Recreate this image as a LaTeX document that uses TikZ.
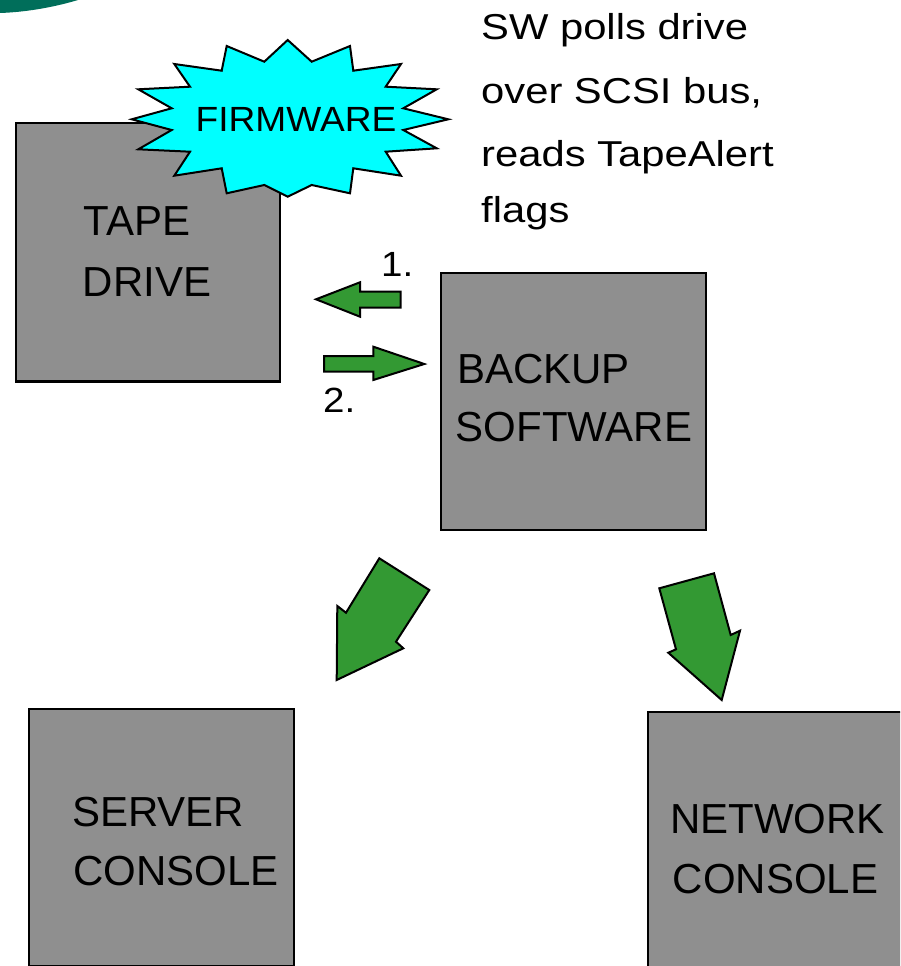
\documentclass[tikz,border=0pt]{standalone}
\usepackage{fontspec}
\setmainfont{Liberation Sans}
\definecolor{boxgray}{RGB}{143,143,143}
\definecolor{arrowgreen}{RGB}{51,153,51}
\definecolor{burstcyan}{RGB}{0,255,255}
\definecolor{cornerteal}{RGB}{0,110,90}
\begin{document}
\begin{tikzpicture}[x=1pt,y=-1pt,
  box/.style={draw=black,line width=2.4pt,fill=boxgray,inner sep=0pt,anchor=north west},
  blockarrow/.style={draw=black,line width=2pt,fill=arrowgreen,line join=miter},
  lbl/.style={anchor=base west,inner sep=0pt,font=\fontsize{42}{50}\selectfont},
  note/.style={anchor=base west,inner sep=0pt,font=\fontsize{36}{44}\selectfont},
  num/.style={anchor=base west,inner sep=0pt,font=\fontsize{35}{42}\selectfont}]
\clip (0,0) rectangle (900,966);

% corner decoration
\fill[cornerteal] (0,0) -- (0,13) .. controls (30,12) and (58,6) .. (78,0) -- cycle;

% boxes
\node[box,minimum width=264.3pt,minimum height=258.4pt] (tape) at (14.7,122) {};
\node[box,minimum width=265pt,minimum height=257pt] (backup) at (440,272) {};
\node[box,minimum width=265pt,minimum height=257pt] (server) at (28,708) {};
\node[box,minimum width=265pt,minimum height=257pt] (network) at (647,711) {};

% firmware starburst
\draw[line width=2pt,fill=burstcyan,line join=miter]
  (287.7,40) -- (311.7,61.7) -- (350,46) -- (353.3,70.7) -- (401,64) -- (385.7,86.7)
  -- (436.7,89.3) -- (403.3,108.3) -- (448.3,119.3) -- (403.3,130) -- (436.7,148.3)
  -- (385.7,151.7) -- (401,175.7) -- (353.3,168.3) -- (350,193.3) -- (311.7,185)
  -- (287.7,196.7) -- (264.3,185) -- (226.7,193.3) -- (221.7,168.3) -- (174.3,175.7)
  -- (190,151.7) -- (138.3,149.3) -- (171.7,130) -- (131.7,119.3) -- (171.7,108.3)
  -- (138.3,89.3) -- (190,86.7) -- (174.3,64) -- (221.7,70.7) -- (226.7,46)
  -- (264.3,61.7) -- cycle;
\node[num,anchor=base] (fw) at (296,131.7) {\scalebox{1.06}[1]{FIRMWARE}};

% box labels
\node[lbl] (tapeA) at (83.5,235) {TAPE};
\node[lbl] (tapeB) at (82.5,296) {DRIVE};
\node[lbl] (backupA) at (457,383.3) {BACKUP};
\node[lbl] (backupB) at (455.5,441.7) {SOFTWARE};
\node[lbl] (serverA) at (72,826.7) {SERVER};
\node[lbl] (serverB) at (73,885) {CONSOLE};
\node[lbl] (networkA) at (670,833.3) {NETWORK};
\node[lbl] (networkB) at (672.5,893.3) {CONSOLE};

% explanatory note
\node[note] (noteA) at (481,39.3) {\scalebox{1.16}[1]{SW polls drive}};
\node[note] (noteB) at (481,103.3) {\scalebox{1.16}[1]{over SCSI bus,}};
\node[note] (noteC) at (481,166.7) {\scalebox{1.16}[1]{reads TapeAlert}};
\node[note] (noteD) at (481,222.7) {\scalebox{1.16}[1]{flags}};

% poll / response arrows
\draw[blockarrow] (316,299.3) -- (360,282.3) -- (360,291.7) -- (400.7,291.7)
  -- (400.7,307.7) -- (360,307.7) -- (360,316.7) -- cycle;
\draw[blockarrow] (424.3,364) -- (373.3,346.7) -- (373.3,356) -- (324,356)
  -- (324,371.7) -- (373.3,371.7) -- (373.3,380) -- cycle;
\node[num] (one) at (381,276.7) {\scalebox{1.1}[1]{1.}};
\node[num] (two) at (323,412.7) {\scalebox{1.1}[1]{2.}};

% notification arrows
\draw[blockarrow] (379.3,558.3) -- (429.3,590) -- (396,641.7) -- (403.3,648.3)
  -- (336.7,680) -- (337.3,606) -- (346,612.7) -- cycle;
\draw[blockarrow] (659.3,588.3) -- (714,573.3) -- (730.7,635) -- (740,630.7)
  -- (721.7,700) -- (668.3,652.7) -- (676,649.3) -- cycle;
\end{tikzpicture}
\end{document}
